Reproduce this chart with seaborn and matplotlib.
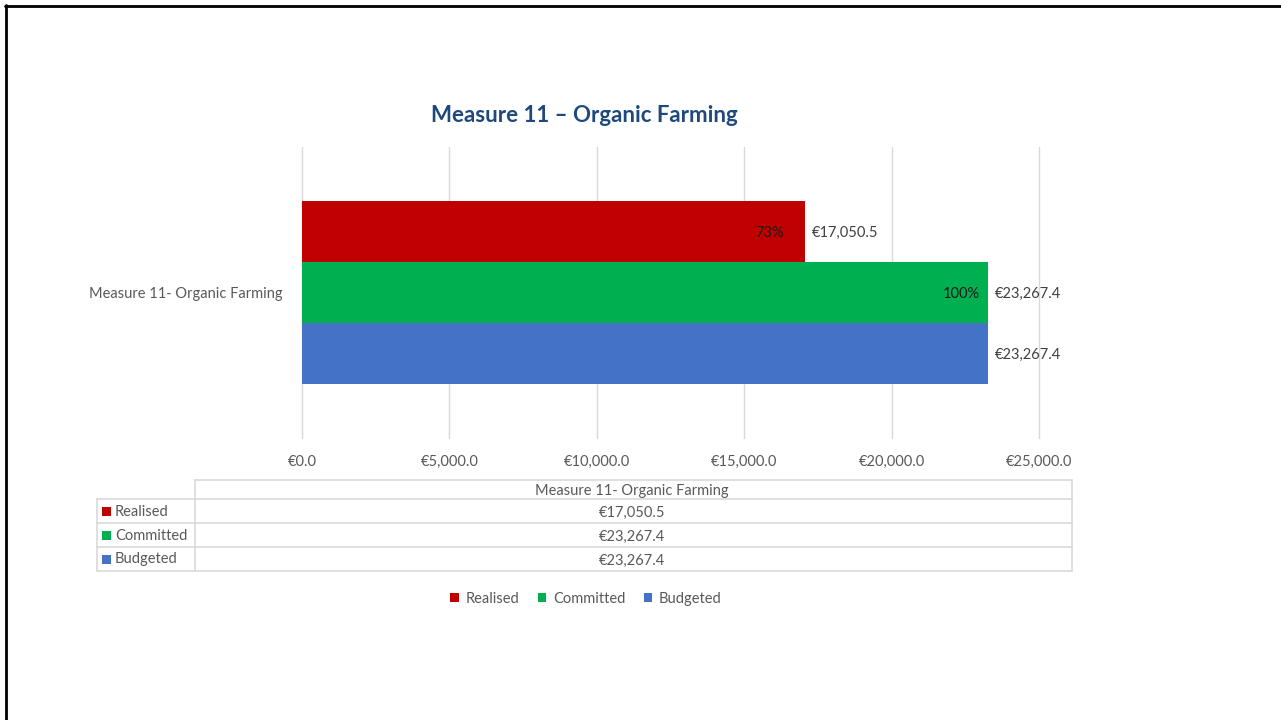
import matplotlib
matplotlib.use("Agg")
import matplotlib.pyplot as plt
import seaborn as sns
import pandas as pd
from matplotlib.patches import Patch
from matplotlib.lines import Line2D
from matplotlib.ticker import FuncFormatter

category = "Measure 11- Organic Farming"
series = ["Realised", "Committed", "Budgeted"]
values = [17050.5, 23267.4, 23267.4]
colors = ["#C00000", "#00B050", "#4472C4"]
title = "Measure 11 \u2013 Organic Farming"
x_ticks = [0, 5000, 10000, 15000, 20000, 25000]

df = pd.DataFrame({"cat": [category] * len(series), "series": series, "value": values})

sns.set_theme(style="white")
FONT = "Lato"
plt.rcParams["font.family"] = [FONT, "DejaVu Sans"]
GRAY = "#595959"
FS = 10.5

fig = plt.figure(figsize=(12.81, 7.2), dpi=100)
W, H = 1281, 720

def fx(px):
    return px / W

def fy(py):
    return 1 - py / H

ax = fig.add_axes([fx(302), fy(438), fx(1039) - fx(302), fy(147) - fy(438)])
sns.barplot(data=df, y="cat", x="value", hue="series", hue_order=series,
            palette=dict(zip(series, colors)), orient="h", width=0.63,
            saturation=1, ax=ax, legend=False, linewidth=0, edgecolor="none")

ax.set_xlim(0, 25000)
ax.set_xticks(x_ticks)
ax.xaxis.set_major_formatter(FuncFormatter(lambda v, p: "\u20ac{:,.1f}".format(v)))
ax.grid(axis="x", color="#D9D9D9", linewidth=1)
ax.grid(axis="y", visible=False)
for gl in ax.get_xgridlines():
    gl.set_clip_on(False)
ax.set_axisbelow(True)
for s in ax.spines.values():
    s.set_visible(False)
ax.tick_params(axis="x", length=0, pad=12, labelsize=FS, labelcolor=GRAY)
ax.tick_params(axis="y", length=0, pad=14, labelsize=FS, labelcolor=GRAY)
ax.set_xlabel("")
ax.set_ylabel("")

budget = values[series.index("Budgeted")]
pct_offsets = {"Realised": -15, "Committed": -6}
for cont, s, v in zip(ax.containers, series, values):
    for bar in cont:
        w = bar.get_width()
        yc = bar.get_y() + bar.get_height() / 2
        ax.annotate("\u20ac{:,.1f}".format(v), xy=(w, yc), xytext=(5, 0),
                    textcoords="offset points", ha="left", va="center_baseline",
                    fontsize=FS, color="#404040")
        if s in pct_offsets:
            ax.annotate("{:.0%}".format(v / budget), xy=(w, yc),
                        xytext=(pct_offsets[s], 0),
                        textcoords="offset points", ha="right", va="center_baseline",
                        fontsize=FS, color="#1a1a1a")

fig.text(fx(584), fy(115), title, ha="center", va="center", fontsize=16,
         fontweight="bold", color="#1F497D")

# Data table
lc = "#D9D9D9"
def hline(y, x0, x1):
    fig.add_artist(Line2D([fx(x0), fx(x1)], [fy(y), fy(y)], color=lc, lw=1.2))
def vline(x, y0, y1):
    fig.add_artist(Line2D([fx(x), fx(x)], [fy(y0), fy(y1)], color=lc, lw=1.2))

hline(480, 195, 1072)
for y in [499, 523, 547, 571]:
    hline(y, 97, 1072)
vline(97, 499, 571)
vline(195, 480, 571)
vline(1072, 480, 571)
fig.text(fx(632), fy(489.5), category, ha="center", va="center_baseline", fontsize=FS, color=GRAY)
row_c = [511, 535, 559]
for yc, s, v, c in zip(row_c, series, values, colors):
    fig.text(fx(632), fy(yc), "\u20ac{:,.1f}".format(v), ha="center", va="center_baseline",
             fontsize=FS, color=GRAY)
    fig.add_artist(plt.Rectangle((fx(102), fy(yc + 4.5)), fx(9), 9 / H,
                                 facecolor=c, edgecolor="none"))
    fig.text(fx(115), fy(yc - 1), s, ha="left", va="center_baseline", fontsize=FS, color=GRAY)

handles = [Patch(facecolor=c, edgecolor="none", label=s) for s, c in zip(series, colors)]
fig.legend(handles=handles, loc="center", bbox_to_anchor=(fx(586), fy(599)), ncol=3,
           frameon=False, fontsize=FS, labelcolor=GRAY, handlelength=0.6,
           handleheight=0.6, handletextpad=0.45, columnspacing=1.25)

# Slide frame
fig.add_artist(Line2D([fx(5), 1], [fy(5.5), fy(5.5)], color="black", lw=2))
fig.add_artist(Line2D([fx(5.5), fx(5.5)], [fy(5), 0], color="black", lw=2))

fig.savefig("out.png", dpi=100, facecolor="white")
